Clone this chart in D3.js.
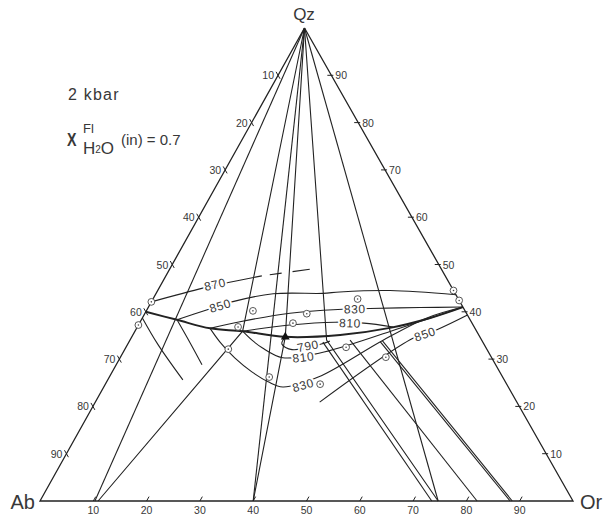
<!DOCTYPE html>
<html><head><meta charset="utf-8">
<script src="https://cdn.jsdelivr.net/npm/d3@7"></script>
<style>body{margin:0;background:#fff}svg{display:block;font-family:"Liberation Sans",Arial,sans-serif}</style>
</head><body><svg id="c" width="613" height="515"></svg>
<script>
// compositions are [Qz, Ab, Or] in %
const vertexNames = ["Qz", "Ab", "Or"];
const vertexComps = [[100,0,0],[0,100,0],[0,0,100]];
const tickValues = [10,20,30,40,50,60,70,80,90];

const cotectic = [[40,60,0],[38.3,55.0,6.7],[36.5,49.7,13.8],[35.9,43.9,20.2],[34.7,36.5,28.8],[35.1,26.0,38.9],[36.6,15.9,47.5],[38.7,7.3,54.0],[41,0,59]];
const iso870 = [[42.1,57.9,0],[45.0,46.8,8.2],[46.2,41.4,12.4],[47.6,34.4,18.0]];
const iso870dashed = [[47.6,34.4,18.0],[49.0,24.7,26.3]];
const iso850q = [[38.3,55.0,6.7],[40.4,48.4,11.2],[42.1,42.8,15.1],[43.8,34.2,22.0],[43.9,24.8,31.3],[44.2,21.5,34.3],[44.5,11.9,43.6],[43.6,0,56.4]];
const iso830q = [[36.5,49.7,13.8],[37.9,43.4,18.7],[39.7,33.1,27.2],[40.5,23.7,35.8],[40.7,17.6,41.7],[40.9,8.1,51.0],[41,0,59]];
const iso810q = [[35.9,43.9,20.2],[37.2,34.4,28.4],[37.8,25.6,36.6],[37.6,20.3,42.1],[36.8,15.2,48.0]];
const iso790 = [[34.7,36.5,28.8],[33.2,37.9,28.9],[32.0,36.6,31.4],[33.2,30.5,36.3],[33.8,28.6,37.6]];
const iso810f = [[35.9,43.9,20.2],[34.0,43.1,22.9],[32.4,42.0,25.6],[30.3,39.2,30.5],[31.3,31.7,37.0],[35.9,16.1,48.0],[41,0,59]];
const iso830f = [[36.5,49.7,13.8],[33.6,49.3,17.1],[30.2,48.2,21.6],[27.3,46.5,26.2],[25.2,44.5,30.3],[24.1,42.3,33.6],[26.2,34.6,39.2],[34.0,18.5,47.5],[38.7,7.9,53.4],[41,0,59]];
const iso850f = [[39.3,0,60.7],[36.2,7.3,56.5],[34.4,12.7,52.9],[20.9,37.0,42.1]];
const sideCurveA = [[38.7,61.3,0],[33.0,61.2,5.8],[25.6,60.3,14.1]];
const sideCurveB = [[38.3,55.0,6.7],[33.4,55.0,11.6],[28.8,55.1,16.1]];

const isoCurves = [cotectic, iso870, iso850q, iso830q, iso810q, iso790, iso810f, iso830f, iso850f, sideCurveA, sideCurveB];

const isoLabelText = ["870","850","830","810","790","810","830","850"];
const isoLabelPos = [[45.8,44.1,10.1],[41.3,45.4,13.3],[40.6,20.5,38.9],[37.6,22.9,39.5],[32.8,33.2,34.0],[30.4,35.3,34.3],[24.5,38.3,37.2],[35.3,10.0,54.7]];
const isoLabelLine = [iso870, iso850q, iso830q, iso810q, iso790, iso810f, iso830f, iso850f];

const joins = [
  [[100,0,0],[0,89.7,10.3]],
  [[100,0,0],[35.9,43.9,20.2],[0,89.1,10.9]],
  [[100,0,0],[0,60,40]],
  [[100,0,0],[34.7,36.5,28.8],[0,60,40]],
  [[100,0,0],[34.0,29.1,36.9],[0,25.3,74.7]],
  [[100,0,0],[0,25.3,74.7]],
  [[33.6,30.0,36.4],[0,26.5,73.5]],
  [[34.0,24.7,41.3],[0,18,82]],
  [[33.7,19.2,47.1],[0,11.8,88.2]],
  [[33.9,18.7,47.4],[0,11.4,88.6]]
];

const experiments = [[42.1,57.9,0],[37.2,62.8,0],[40.2,39.8,20.0],[36.8,44.3,18.9],[32.1,48.5,19.4],[39.6,30.0,30.4],[37.6,33.6,28.8],[42.7,18.9,38.4],[26.2,43.8,30.0],[24.7,35.0,40.3],[32.5,26.2,41.3],[30.4,19.8,49.8],[44.5,0,55.5],[42.4,0,57.6]];
const minimum = [[34.7,36.5,28.8]];

// scales
const qy = d3.scaleLinear().domain([0,100]).range([501,28]);
const ox = d3.scaleLinear().domain([0,100]).range([40,573]);
const skew = d3.scaleLinear().domain([0,100]).range([0,264.5]);
const P = c => [ox(c[2]) + skew(c[0]), qy(c[0])];

const svg = d3.select("#c");
const ink = "#222", txt = "#383838";
const straight = d3.line().x(d=>P(d)[0]).y(d=>P(d)[1]);
const smooth = d3.line().x(d=>P(d)[0]).y(d=>P(d)[1]).curve(d3.curveCatmullRom.alpha(0.5));

svg.append("path").attr("d", straight([...vertexComps, vertexComps[0]]))
  .attr("fill","none").attr("stroke",ink).attr("stroke-width",1.3).attr("stroke-linejoin","miter");

const tg = svg.append("g").attr("fill",txt).attr("font-size",10.5);
const unit = (a,b)=>{const dx=b[0]-a[0],dy=b[1]-a[1],l=Math.hypot(dx,dy);return [dx/l,dy/l];};
const dirRight = unit(P([100,0,0]),P([0,0,100]));
const dirLeft = unit(P([0,100,0]),P([100,0,0]));
tickValues.forEach(v=>{
  let p = P([100-v, v, 0]);
  tg.append("line").attr("x1",p[0]-dirRight[0]*4).attr("y1",p[1]-dirRight[1]*4)
    .attr("x2",p[0]+dirRight[0]*4).attr("y2",p[1]+dirRight[1]*4).attr("stroke",ink).attr("stroke-width",1);
  tg.append("text").attr("x",p[0]-4).attr("y",p[1]+4).attr("text-anchor","end").text(v);
  p = P([v, 0, 100-v]);
  tg.append("line").attr("x1",p[0]-4).attr("y1",p[1]).attr("x2",p[0]+2).attr("y2",p[1]).attr("stroke",ink).attr("stroke-width",1);
  tg.append("text").attr("x",p[0]+4).attr("y",p[1]+4).attr("text-anchor","start").text(v);
  p = P([0, 100-v, v]);
  tg.append("line").attr("x1",p[0]).attr("y1",p[1]).attr("x2",p[0]+dirLeft[0]*5).attr("y2",p[1]+dirLeft[1]*5).attr("stroke",ink).attr("stroke-width",1);
  tg.append("text").attr("x",p[0]).attr("y",p[1]+12.5).attr("text-anchor","middle").text(v);
});

joins.forEach(j=>svg.append("path").attr("d",straight(j)).attr("fill","none").attr("stroke",ink).attr("stroke-width",1.1));

isoCurves.forEach((c,i)=>svg.append("path").attr("d",smooth(c)).attr("fill","none").attr("stroke",ink)
  .attr("stroke-width", i===0 ? 2 : 1.1));
svg.append("path").attr("d",straight(iso870dashed)).attr("fill","none").attr("stroke",ink).attr("stroke-width",1.1)
  .attr("stroke-dasharray","0 8 12 11 18 100");

function angleAt(line, lab){
  const lp = P(lab), pts = line.map(P);
  let best = 0, bd = Infinity;
  for(let i=0;i<pts.length-1;i++){
    const mx=(pts[i][0]+pts[i+1][0])/2, my=(pts[i][1]+pts[i+1][1])/2;
    const d=Math.hypot(mx-lp[0],my-lp[1]);
    if(d<bd){bd=d;best=i;}
  }
  const a=pts[best], b=pts[best+1];
  return Math.atan2(b[1]-a[1], b[0]-a[0])*180/Math.PI;
}
isoLabelText.forEach((t,i)=>{
  const p = P(isoLabelPos[i]);
  let ang = angleAt(isoLabelLine[i], isoLabelPos[i]);
  if(ang>90) ang-=180; if(ang<-90) ang+=180;
  svg.append("text").attr("transform",`translate(${p[0]},${p[1]}) rotate(${ang})`)
    .attr("text-anchor","middle").attr("dy","0.36em").attr("font-size",12).attr("letter-spacing",0.6)
    .attr("fill",txt).attr("stroke","#fff").attr("stroke-width",4).attr("paint-order","stroke").text(t);
});

experiments.forEach(c=>{
  const p=P(c);
  svg.append("circle").attr("cx",p[0]).attr("cy",p[1]).attr("r",3.4).attr("fill","#fff").attr("stroke","#444").attr("stroke-width",0.9);
  svg.append("circle").attr("cx",p[0]).attr("cy",p[1]).attr("r",0.8).attr("fill","#444");
});
minimum.forEach(c=>{
  const p=P(c);
  svg.append("path").attr("d",d3.symbol(d3.symbolTriangle,34)()).attr("transform",`translate(${p[0]},${p[1]})`).attr("fill","#111");
});

const vl = [[304,20,"middle",17],[35,509,"end",20],[580,509,"start",20]];
vertexNames.forEach((n,i)=>svg.append("text").attr("x",vl[i][0]).attr("y",vl[i][1]).attr("text-anchor",vl[i][2])
  .attr("font-size",vl[i][3]).attr("fill",txt).text(n));

svg.append("text").attr("x",68).attr("y",100).attr("font-size",16).attr("letter-spacing",1.2).attr("fill",txt).text("2 kbar");
svg.append("text").attr("transform","translate(67,146) scale(0.75,1)").attr("font-size",19).attr("font-weight","bold").attr("fill",txt).text("X");
svg.append("text").attr("x",83).attr("y",133).attr("font-size",13).attr("fill",txt).text("Fl");
const h = svg.append("text").attr("x",83).attr("y",154).attr("font-size",17).attr("fill",txt);
h.append("tspan").text("H");
h.append("tspan").attr("font-size",10).attr("dy",-1).text("2");
h.append("tspan").attr("dy",1).text("O");
svg.append("text").attr("x",121).attr("y",145).attr("font-size",15).attr("fill",txt).text("(in) = 0.7");
</script></body></html>
